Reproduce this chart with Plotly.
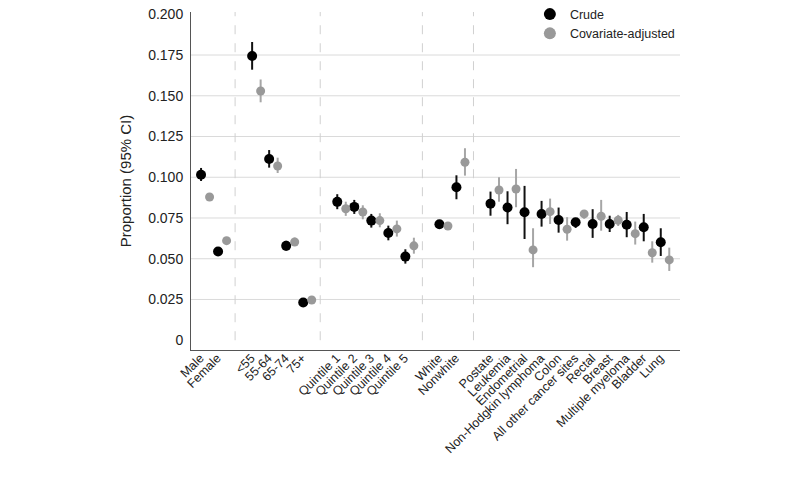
import plotly.graph_objects as go

# ---- data ----
groups = [
    ["Male", "Female"],
    ["<55", "55-64", "65-74", "75+"],
    ["Quintile 1", "Quintile 2", "Quintile 3", "Quintile 4", "Quintile 5"],
    ["White", "Nonwhite"],
    ["Postate", "Leukemia", "Endometrial", "Non-Hodgkin lymphoma", "Colon",
     "All other cancer sites", "Rectal", "Breast", "Multiple myeloma", "Bladder", "Lung"],
]

crude = [0.1015, 0.0544,
         0.1744, 0.1112, 0.0579, 0.0231,
         0.0849, 0.0818, 0.0734, 0.0658, 0.0513,
         0.0712, 0.0939,
         0.0838, 0.0814, 0.0785, 0.0775, 0.0738, 0.0724, 0.0713, 0.0713, 0.0709, 0.0693, 0.0601]
crude_lo = [0.0977, 0.0530,
            0.1660, 0.1059, 0.0550, 0.0220,
            0.0804, 0.0775, 0.0691, 0.0613, 0.0470,
            0.0702, 0.0865,
            0.0764, 0.0712, 0.0621, 0.0697, 0.0660, 0.0689, 0.0628, 0.0664, 0.0632, 0.0607, 0.0517]
crude_hi = [0.1057, 0.0560,
            0.1830, 0.1167, 0.0610, 0.0242,
            0.0896, 0.0861, 0.0775, 0.0703, 0.0558,
            0.0722, 0.1012,
            0.0912, 0.0914, 0.0947, 0.0855, 0.0814, 0.0746, 0.0804, 0.0764, 0.0787, 0.0775, 0.0687]

adj = [0.0879, 0.0611,
       0.1529, 0.1069, 0.0603, 0.0247,
       0.0807, 0.0787, 0.0734, 0.0683, 0.0579,
       0.0701, 0.1092,
       0.0922, 0.0928, 0.0554, 0.0789, 0.0681, 0.0775, 0.0761, 0.0736, 0.0654, 0.0537, 0.0493]
adj_lo = [0.0860, 0.0598,
          0.1460, 0.1026, 0.0580, 0.0235,
          0.0763, 0.0742, 0.0693, 0.0636, 0.0531,
          0.0693, 0.1010,
          0.0850, 0.0816, 0.0448, 0.0713, 0.0611, 0.0746, 0.0672, 0.0701, 0.0587, 0.0476, 0.0425]
adj_hi = [0.0900, 0.0625,
          0.1600, 0.1120, 0.0630, 0.0260,
          0.0850, 0.0828, 0.0779, 0.0734, 0.0629,
          0.0710, 0.1178,
          0.1000, 0.1051, 0.0687, 0.0869, 0.0755, 0.0799, 0.0861, 0.0769, 0.0728, 0.0607, 0.0568]

y_tickvals = [0, 0.025, 0.05, 0.075, 0.1, 0.125, 0.15, 0.175, 0.2]
y_ticktext = ["0", "0.025", "0.050", "0.075", "0.100", "0.125", "0.150", "0.175", "0.200"]

# ---- positions (one blank slot between groups) ----
cats, xpos, seps = [], [], []
pos = 0
for gi, g in enumerate(groups):
    if gi > 0:
        seps.append(pos)
        pos += 1
    for c in g:
        cats.append(c)
        xpos.append(pos)
        pos += 1

OFF = 0.5
x_crude = xpos
x_adj = [p + OFF for p in xpos]

fig = go.Figure()
fig.add_trace(go.Scatter(
    x=x_crude, y=crude, mode="markers", name="Crude",
    marker=dict(color="#000000", size=10),
    error_y=dict(type="data", symmetric=False,
                 array=[h - v for h, v in zip(crude_hi, crude)],
                 arrayminus=[v - l for v, l in zip(crude, crude_lo)],
                 color="#111111", thickness=2, width=0),
))
fig.add_trace(go.Scatter(
    x=x_adj, y=adj, mode="markers", name="Covariate-adjusted",
    marker=dict(color="#999999", size=9),
    error_y=dict(type="data", symmetric=False,
                 array=[h - v for h, v in zip(adj_hi, adj)],
                 arrayminus=[v - l for v, l in zip(adj, adj_lo)],
                 color="#a6a6a6", thickness=2, width=0),
))

shapes = []
for gv in y_tickvals[1:-1]:
    shapes.append(dict(type="line", xref="paper", yref="y", x0=0, x1=1, y0=gv, y1=gv,
                       line=dict(color="#dadada", width=1), layer="below"))
for s in seps:
    shapes.append(dict(type="line", xref="x", yref="y", x0=s, x1=s, y0=0, y1=0.2015,
                       line=dict(color="#d0d0d0", width=1, dash="dash"), layer="below"))

fig.update_layout(
    width=800, height=489,
    margin=dict(l=191, r=120, t=12, b=139, autoexpand=False),
    paper_bgcolor="white", plot_bgcolor="white",
    font=dict(family="Liberation Sans, Arial, sans-serif", color="#222222", size=12),
    shapes=shapes,
    showlegend=True,
    legend=dict(x=0.693, y=1.037, xanchor="left", yanchor="top",
                font=dict(size=12.5, color="#222222"), bgcolor="rgba(0,0,0,0)",
                itemsizing="constant", tracegroupgap=0),
    xaxis=dict(range=[-0.59, 28.13], tickmode="array", tickvals=[p - 0.05 for p in xpos],
               ticktext=cats, tickangle=-45, showgrid=False, zeroline=False,
               showline=True, linecolor="#555555", linewidth=1, ticks="",
               automargin=False, ticklabelstandoff=-5,
               tickfont=dict(size=12.5, color="#222222")),
    yaxis=dict(range=[-0.006, 0.2014], tickmode="array", tickvals=y_tickvals,
               ticktext=y_ticktext, showgrid=False, zeroline=False,
               showline=True, linecolor="#555555", linewidth=1, ticks="",
               automargin=False, ticklabelstandoff=4,
               tickfont=dict(size=14, color="#222222"),
               title=dict(text="Proportion (95% CI)", font=dict(size=15, color="#222222"),
                          standoff=12)),
)

fig.write_html("out.html", config={"displayModeBar": False},
               post_script="document.body.style.margin='0px';")
